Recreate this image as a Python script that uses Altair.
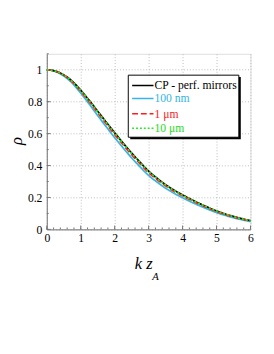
import altair as alt
import pandas as pd

kz = [0, 0.25, 0.5, 0.75, 1, 1.25, 1.5, 1.75, 2, 2.25, 2.5, 2.75, 3, 3.25, 3.5, 3.75,
      4, 4.25, 4.5, 4.75, 5, 5.25, 5.5, 5.75, 6]
cp_perfect = [1.0, 0.992, 0.968, 0.928, 0.872, 0.808, 0.740, 0.672, 0.605, 0.540, 0.478, 0.420, 0.365,
              0.320, 0.280, 0.246, 0.216, 0.188, 0.162, 0.138, 0.116, 0.097, 0.081, 0.067, 0.055]
nm100 = [1.0, 0.990, 0.961, 0.916, 0.854, 0.785, 0.713, 0.643, 0.575, 0.510, 0.448, 0.391, 0.338,
         0.296, 0.258, 0.226, 0.198, 0.172, 0.148, 0.126, 0.105, 0.088, 0.073, 0.060, 0.049]
um1 = [1.0, 0.991, 0.966, 0.924, 0.866, 0.800, 0.731, 0.662, 0.595, 0.530, 0.468, 0.410, 0.356,
       0.312, 0.273, 0.239, 0.210, 0.183, 0.157, 0.134, 0.112, 0.094, 0.078, 0.065, 0.053]
um10 = [1.0, 0.992, 0.967, 0.927, 0.870, 0.806, 0.738, 0.670, 0.603, 0.538, 0.476, 0.418, 0.363,
        0.318, 0.278, 0.244, 0.214, 0.187, 0.161, 0.137, 0.115, 0.096, 0.080, 0.066, 0.054]

series_names = ["100 nm", "CP - perf. mirrors", "1 μm", "10 μm"]
series_vals = [nm100, cp_perfect, um1, um10]
series_colors = ["#33b5e5", "#000000", "#ff1a1a", "#22ee22"]
series_dash = [[1, 0], [1, 0], [6, 3], [2, 2]]

x_ticks = [0, 1, 2, 3, 4, 5, 6]
y_ticks = [0, 0.2, 0.4, 0.6, 0.8, 1.0]
x_minor = [i * 0.2 for i in range(31)]
y_minor = [i * 0.1 for i in range(12)]

W, H = 210, 181
FONT = "Liberation Serif, DejaVu Serif, Times New Roman, serif"

xs = alt.Scale(domain=[0, 6], nice=False)
ys = alt.Scale(domain=[0, 1.1], nice=False)

x_axis = alt.Axis(values=x_ticks, title=None, grid=True, gridDash=[1, 2],
                  gridColor="#bbbbbb", tickSize=0, labelPadding=3,
                  labelFont=FONT, labelFontSize=12, labelColor="#000",
                  labelOverlap=False, labelFlush=False, domainColor="#777", format="d")
y_axis = alt.Axis(values=y_ticks, title=None, grid=True, gridDash=[1, 2],
                  gridColor="#bbbbbb", tickSize=0, labelPadding=5,
                  labelFont=FONT, labelFontSize=12, labelColor="#000",
                  labelOverlap=False, labelFlush=False, domainColor="#777",
                  labelExpr="datum.value == 1 ? '1' : datum.value == 0 ? '0' : format(datum.value, '.1f')")

layers = []
base_df = pd.DataFrame({"x": [0], "y": [0]})
layers.append(alt.Chart(base_df).mark_point(opacity=0).encode(
    x=alt.X("x:Q", scale=xs, axis=x_axis), y=alt.Y("y:Q", scale=ys, axis=y_axis)))

def xticks(vals, length):
    df = pd.DataFrame({"x": vals})
    return alt.Chart(df).mark_rule(color="#777", strokeWidth=1).encode(
        x=alt.X("x:Q", scale=xs, axis=x_axis), y=alt.value(H), y2=alt.value(H - length))

def yticks(vals, length):
    df = pd.DataFrame({"y": vals})
    return alt.Chart(df).mark_rule(color="#777", strokeWidth=1).encode(
        y=alt.Y("y:Q", scale=ys, axis=y_axis), x=alt.value(0), x2=alt.value(length))

layers += [xticks(x_minor, 2), xticks(x_ticks, 4), yticks(y_minor, 2), yticks(y_ticks, 4)]

for name, vals, col, dash in zip(series_names, series_vals, series_colors, series_dash):
    df = pd.DataFrame({"kz": kz, "rho": vals})
    layers.append(alt.Chart(df).mark_line(color=col, strokeWidth=1.8, strokeDash=dash, interpolate="monotone").encode(
        x=alt.X("kz:Q", scale=xs, axis=x_axis), y=alt.Y("rho:Q", scale=ys, axis=y_axis)))

# legend
lx0, ly0 = 132 - 48, 72 - 50
lw, lh = 114, 64
layers.append(alt.Chart(base_df).mark_rect(fill="#000").encode(
    x=alt.value(lx0 + 2), x2=alt.value(lx0 + lw + 2), y=alt.value(ly0 + 2), y2=alt.value(ly0 + lh + 2)))
layers.append(alt.Chart(base_df).mark_rect(fill="#fff", stroke="#000", strokeWidth=1).encode(
    x=alt.value(lx0), x2=alt.value(lx0 + lw), y=alt.value(ly0), y2=alt.value(ly0 + lh)))
leg_order = [1, 0, 2, 3]
row_y = [82.7 - 50, 96 - 50, 111.7 - 50, 126.7 - 50]
for ry, idx in zip(row_y, leg_order):
    layers.append(alt.Chart(base_df).mark_rule(color=series_colors[idx], strokeWidth=1.6, strokeDash=series_dash[idx]).encode(
        x=alt.value(lx0 + 4), x2=alt.value(lx0 + 26), y=alt.value(ry)))
    layers.append(alt.Chart(base_df).mark_text(align="left", baseline="middle", font=FONT, fontSize=12,
                                                color=series_colors[idx] if idx != 3 else "#22dd22").encode(
        x=alt.value(lx0 + 27), y=alt.value(ry), text=alt.value(series_names[idx])))

# axis titles
layers.append(alt.Chart(base_df).mark_text(font=FONT, fontSize=17, fontStyle="italic", angle=270,
                                            baseline="middle", align="center").encode(
    x=alt.value(17 - 48), y=alt.value(140 - 50), text=alt.value("ρ")))
layers.append(alt.Chart(base_df).mark_text(font=FONT, fontSize=17, fontStyle="italic",
                                            baseline="middle", align="center").encode(
    x=alt.value(148 - 48), y=alt.value(267 - 50), text=alt.value("k z")))
layers.append(alt.Chart(base_df).mark_text(font=FONT, fontSize=11, fontStyle="italic",
                                            baseline="middle", align="center").encode(
    x=alt.value(160 - 48), y=alt.value(280 - 50), text=alt.value("A")))

chart = alt.layer(*layers).properties(
    width=W, height=H,
    autosize=alt.AutoSizeParams(type="none"),
    padding={"left": 40, "top": 42, "right": 16, "bottom": 115},
).configure_view(stroke="#777", strokeWidth=1).configure_axis(
    labelFont=FONT, labelFontSize=12
).configure(background="white")

chart.save("out.html", embed_options={"renderer": "svg", "actions": False})
